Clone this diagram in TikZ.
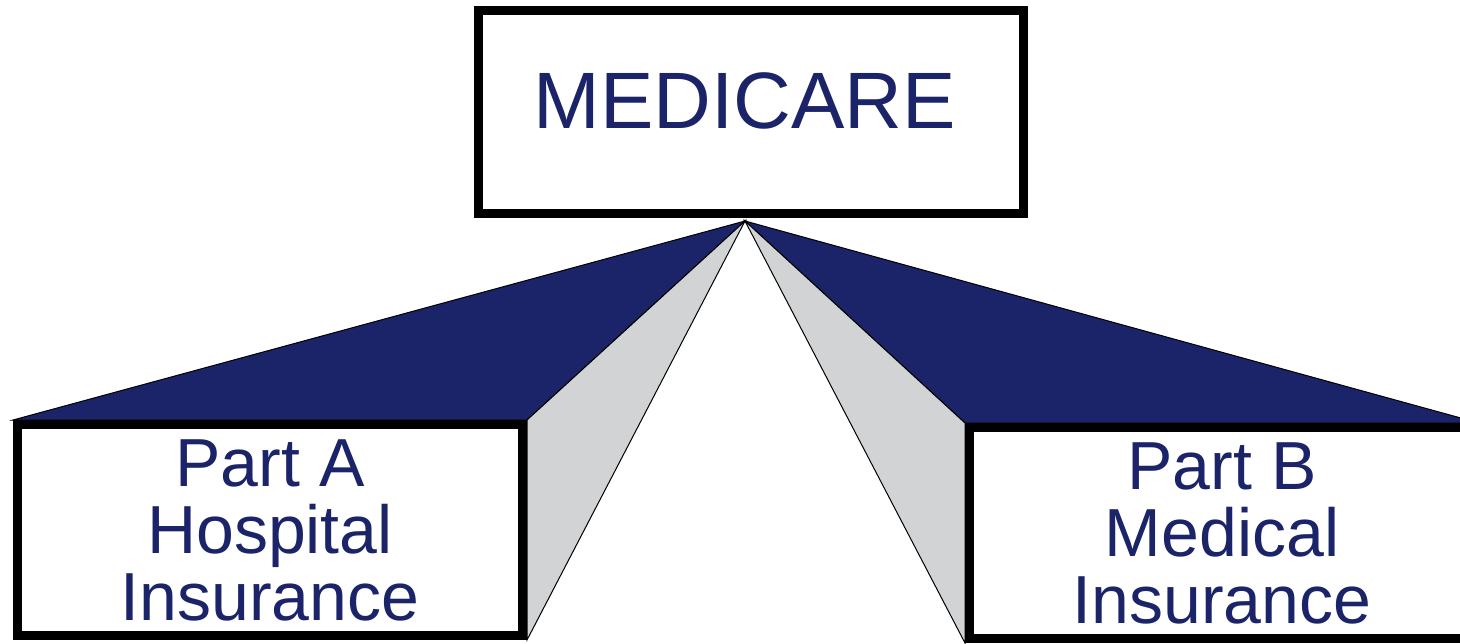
\documentclass[tikz,border=0pt]{standalone}
\usepackage{fontspec}
\setmainfont{Liberation Sans}
\usetikzlibrary{positioning,backgrounds}
\definecolor{navy}{HTML}{1B2369}
\definecolor{sidegray}{HTML}{D1D3D4}
\tikzset{
    bigbox/.style={draw,line width=4.5pt,fill=white,inner sep=0pt,minimum width=272.5pt,minimum height=101.5pt},
    partbox/.style={draw,line width=4.5pt,fill=white,inner sep=0pt,minimum width=252.5pt,minimum height=105.5pt,
        text=navy,align=center,font=\fontsize{34}{33.5}\selectfont},
    topface/.style={fill=navy,draw=black,line width=0.5pt},
    sideface/.style={fill=sidegray,draw=black,line width=0.5pt}
}

\begin{document}
\begin{tikzpicture}[x=0.5pt,y=-0.5pt]
    \useasboundingbox (0,0) rectangle (1460,643);

    % top box
    \node[bigbox] (medicare) at (751,112) {};
    \node[text=navy,font=\fontsize{40}{40}\selectfont] (medtitle) at (745,101) {MEDICARE};
    \coordinate (apex) at (745,221);

    % the two parts
    \node[partbox] (partA) at (270,530) {Part A\\Hospital\\Insurance};
    \node[partbox] (partB) at (1222,533) {Part B\\Medical\\Insurance};

    % fans from the top box
    \begin{scope}[on background layer]
        \draw[topface] (apex) -- (partA.north west) -- (partA.north east) -- cycle;
        \draw[sideface] (apex) -- (partA.north east) -- (partA.south east) -- cycle;
        \draw[topface] (apex) -- (partB.north east) -- (partB.north west) -- cycle;
        \draw[sideface] (apex) -- (partB.north west) -- (partB.south west) -- cycle;
    \end{scope}
\end{tikzpicture}
\end{document}
